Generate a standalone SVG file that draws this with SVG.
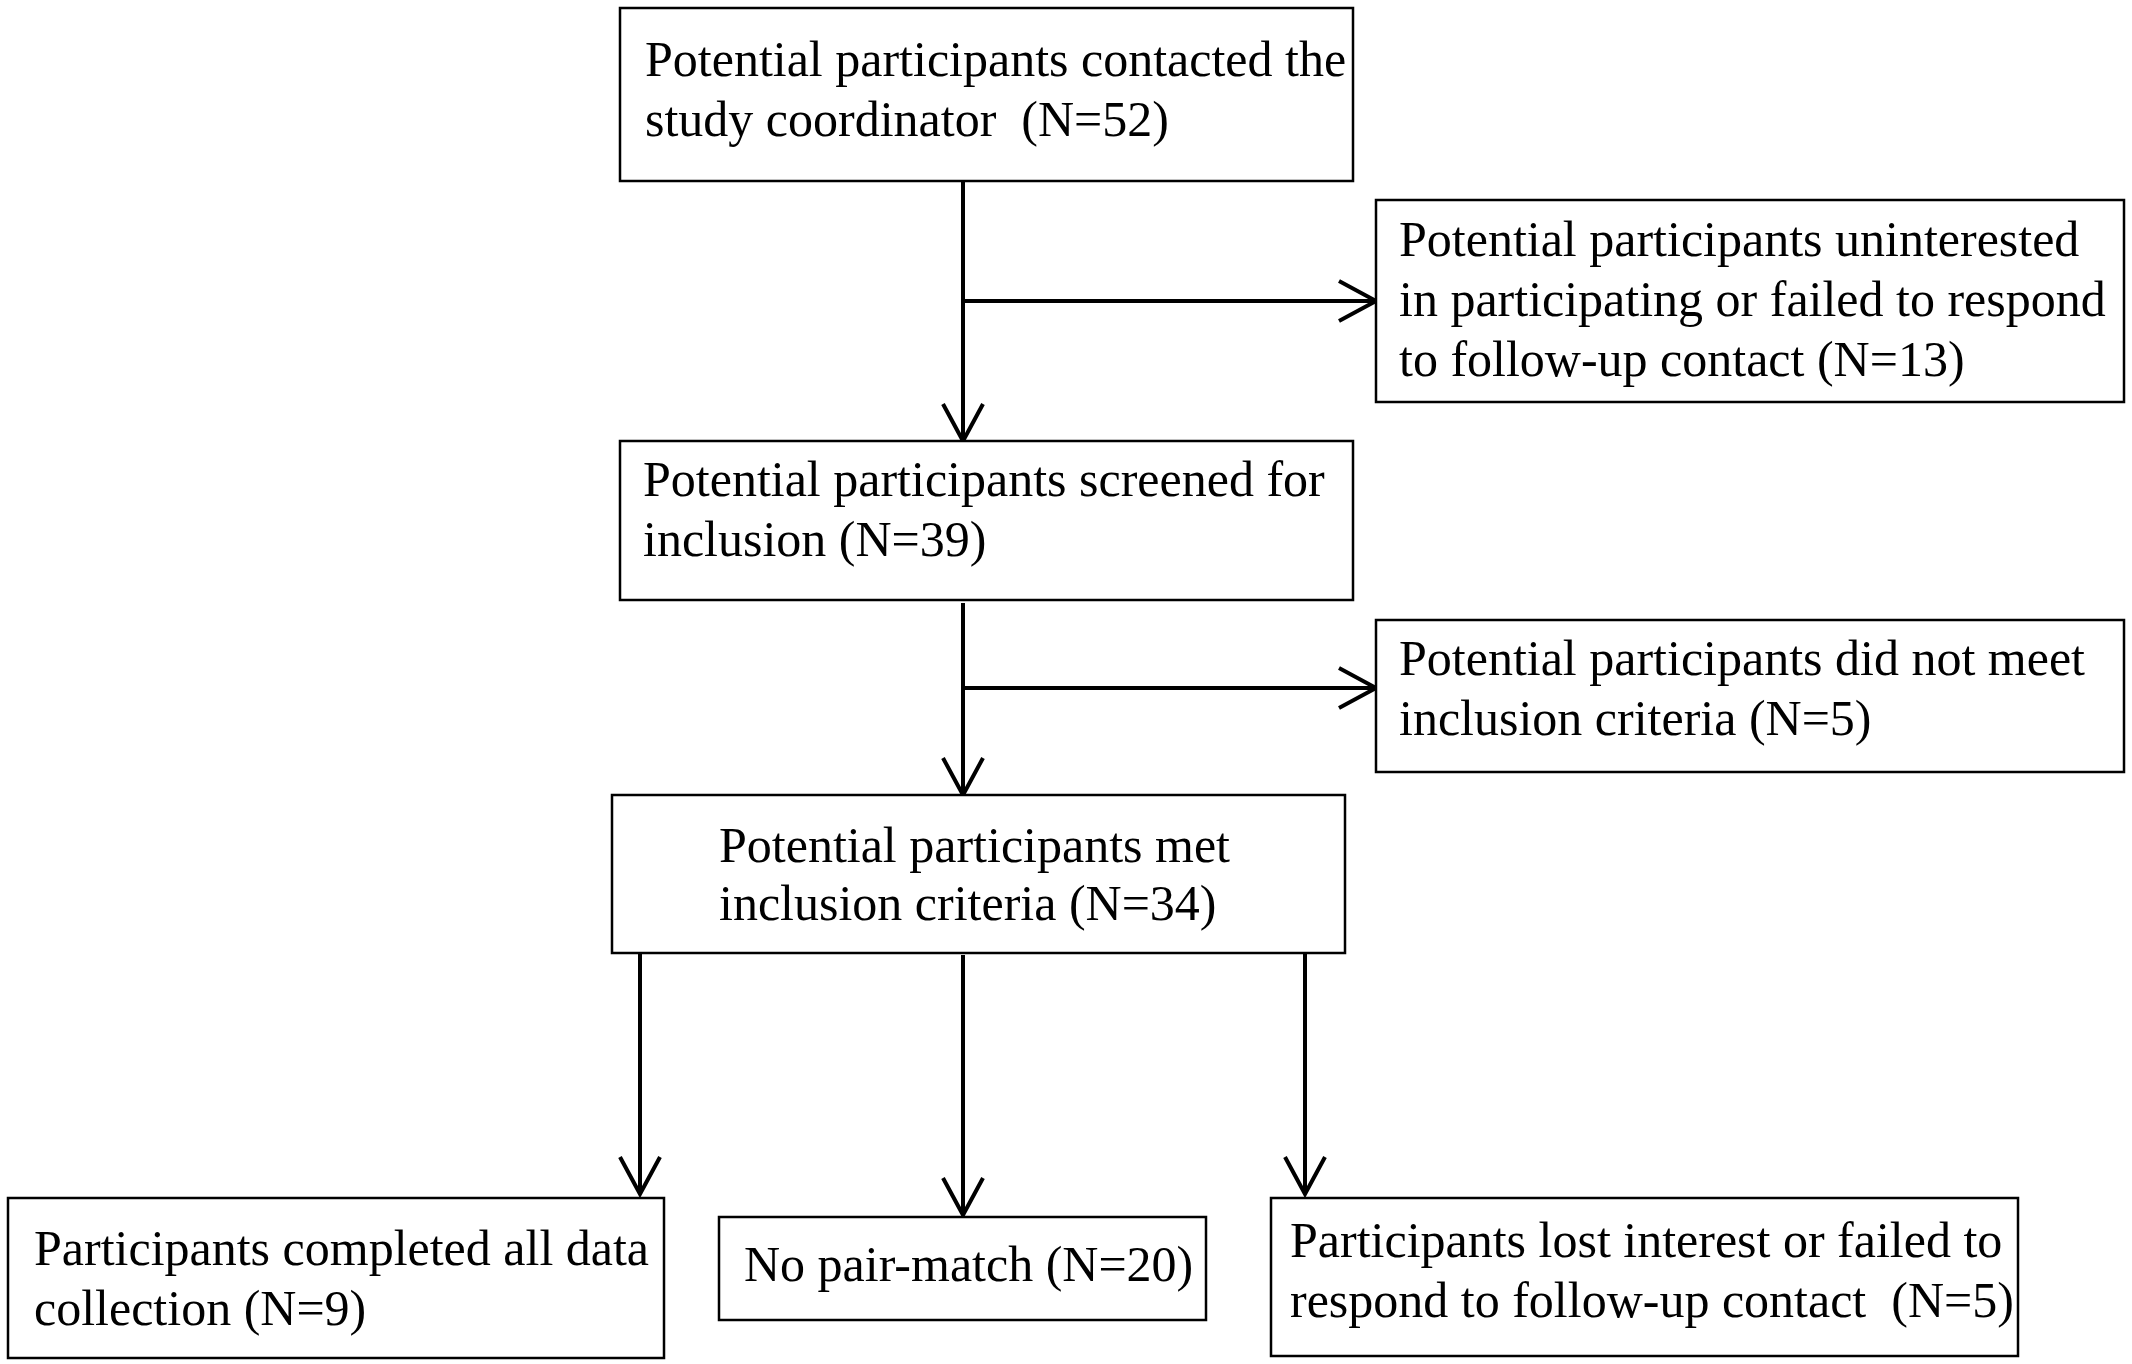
<svg xmlns="http://www.w3.org/2000/svg" width="2132" height="1364" viewBox="0 0 2132 1364">
<style>
.box{fill:#fff;stroke:#000;stroke-width:2.5}
.t{font-family:"Liberation Serif","Times New Roman",serif;font-size:50px;fill:#000}
.c{fill:none;stroke:#000;stroke-width:4}
</style>
<defs>
<marker id="arr" markerUnits="userSpaceOnUse" viewBox="0 0 46 46" markerWidth="46" markerHeight="46" refX="40" refY="23" orient="auto">
<path d="M3,3 L40,23 L3,43" fill="none" stroke="#000" stroke-width="4"/>
</marker>
</defs>
<rect width="2132" height="1364" fill="#fff"/>
<g id="connectors">
<line class="c" x1="963" y1="181" x2="963" y2="441" marker-end="url(#arr)"/>
<line class="c" x1="963" y1="301" x2="1376" y2="301" marker-end="url(#arr)"/>
<line class="c" x1="963" y1="603" x2="963" y2="795" marker-end="url(#arr)"/>
<line class="c" x1="963" y1="688" x2="1376" y2="688" marker-end="url(#arr)"/>
<line class="c" x1="640" y1="953" x2="640" y2="1194" marker-end="url(#arr)"/>
<line class="c" x1="963" y1="955" x2="963" y2="1215" marker-end="url(#arr)"/>
<line class="c" x1="1305" y1="953" x2="1305" y2="1194" marker-end="url(#arr)"/>
</g>
<g id="n1">
<rect class="box" x="620" y="8" width="733" height="173"/>
<text class="t" x="645" y="76">Potential participants contacted the</text>
<text class="t" x="645" y="136" xml:space="preserve">study coordinator  (N=52)</text>
</g>
<g id="n2">
<rect class="box" x="1376" y="200" width="748" height="202"/>
<text class="t" x="1399" y="256">Potential participants uninterested</text>
<text class="t" x="1399" y="316">in participating or failed to respond</text>
<text class="t" x="1399" y="376">to follow-up contact (N=13)</text>
</g>
<g id="n3">
<rect class="box" x="620" y="441" width="733" height="159"/>
<text class="t" x="643" y="496">Potential participants screened for</text>
<text class="t" x="643" y="556">inclusion (N=39)</text>
</g>
<g id="n4">
<rect class="box" x="1376" y="620" width="748" height="152"/>
<text class="t" x="1399" y="675">Potential participants did not meet</text>
<text class="t" x="1399" y="735">inclusion criteria (N=5)</text>
</g>
<g id="n5">
<rect class="box" x="612" y="795" width="733" height="158"/>
<text class="t" x="719" y="862">Potential participants met</text>
<text class="t" x="719" y="920">inclusion criteria (N=34)</text>
</g>
<g id="n6">
<rect class="box" x="8" y="1198" width="656" height="160"/>
<text class="t" x="34" y="1265">Participants completed all data</text>
<text class="t" x="34" y="1325">collection (N=9)</text>
</g>
<g id="n7">
<rect class="box" x="719" y="1217" width="487" height="103"/>
<text class="t" x="744" y="1281">No pair-match (N=20)</text>
</g>
<g id="n8">
<rect class="box" x="1271" y="1198" width="747" height="158"/>
<text class="t" x="1290" y="1257">Participants lost interest or failed to</text>
<text class="t" x="1290" y="1317" xml:space="preserve">respond to follow-up contact  (N=5)</text>
</g>
</svg>
